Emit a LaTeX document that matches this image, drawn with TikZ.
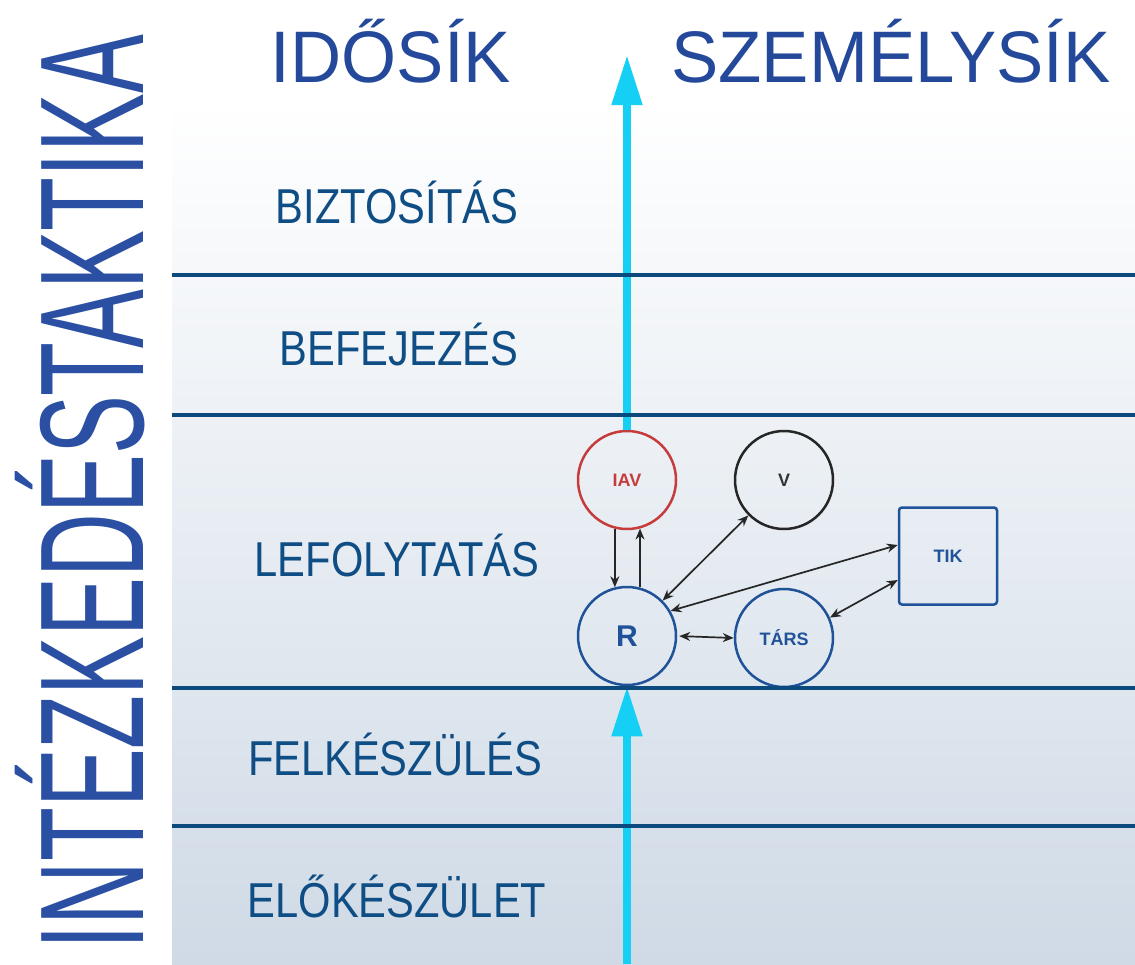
\documentclass[tikz,border=0pt]{standalone}
\usepackage{graphicx}
\usepackage{fontspec}
\setmainfont{Liberation Sans}
\usetikzlibrary{arrows.meta}
\definecolor{leftblue}{HTML}{2A4FA3}
\definecolor{headblue}{HTML}{24489A}
\definecolor{bandblue}{HTML}{0F4D85}
\definecolor{linenavy}{HTML}{0C4A7E}
\definecolor{cyanarr}{HTML}{16CFF5}
\definecolor{iavred}{HTML}{C63B3B}
\definecolor{nodeblue}{HTML}{1F5299}
\definecolor{panelbot}{HTML}{CFDAE6}
\definecolor{panelmid}{HTML}{E4EAF1}
\begin{document}
\begin{tikzpicture}[x=1pt,y=-1pt,
  leftlabel/.style={rotate=90, anchor=base, inner sep=0pt, text=leftblue, font=\fontsize{148}{148}\selectfont},
  headlabel/.style={anchor=base, inner sep=0pt, text=headblue, font=\fontsize{73}{73}\selectfont},
  bandlabel/.style={anchor=base, inner sep=0pt, text=bandblue, font=\fontsize{49}{49}\selectfont},
  bandline/.style={draw=linenavy, line width=4pt},
  timearrow/.style={draw=cyanarr, line width=8pt, -{Triangle[length=50pt,width=29pt]}},
  person/.style={circle, minimum size=98pt, inner sep=0pt, line width=2.5pt, font=\bfseries\fontsize{18}{18}\selectfont},
  relarrow/.style={draw=black!85, line width=1.7pt, {Stealth[length=11pt,width=9pt]}-{Stealth[length=11pt,width=9pt]}},
  onearrow/.style={draw=black!85, line width=1.7pt, -{Stealth[length=11pt,width=9pt]}}
]
\useasboundingbox (0,0) rectangle (1135,964);
% background panel
\shade[top color=white, middle color=panelmid, bottom color=panelbot] (172,100) rectangle (1135,964);

% side title
\node[leftlabel] (side) at (143,492.5) {\scalebox{0.596}[1]{INTÉZKEDÉSTAKTIKA}};

% headers
\node[headlabel] (idosik) at (391,82) {\scalebox{0.97}[1]{IDŐSÍK}};
\node[headlabel] (szemelysik) at (891,82) {\scalebox{0.97}[1]{SZEMÉLYSÍK}};

% band labels
\node[bandlabel] (biztositas) at (397,223) {\scalebox{0.85}[1]{BIZTOSÍTÁS}};
\node[bandlabel] (befejezes) at (399,365) {\scalebox{0.85}[1]{BEFEJEZÉS}};
\node[bandlabel] (lefolytatas) at (397,576) {\scalebox{0.85}[1]{LEFOLYTATÁS}};
\node[bandlabel] (felkeszules) at (395,775) {\scalebox{0.85}[1]{FELKÉSZÜLÉS}};
\node[bandlabel] (elokeszulet) at (397,917) {\scalebox{0.85}[1]{ELŐKÉSZÜLET}};

% persons
\node[person, draw=iavred, text=iavred] (IAV) at (627,480) {IAV};
\node[person, draw=black!85, text=black!80] (V) at (784,480) {V};
\node[person, draw=nodeblue, text=nodeblue, font=\bfseries\fontsize{30}{30}\selectfont] (R) at (627,636) {R};
\node[person, draw=nodeblue, text=nodeblue] (TARS) at (784,638) {TÁRS};
\node[draw=nodeblue, text=nodeblue, rectangle, rounded corners=3pt, minimum width=98pt, minimum height=97pt, inner sep=0pt, line width=2.5pt, font=\bfseries\fontsize{18}{18}\selectfont] (TIK) at (948,556) {TIK};

% time axis
\coordinate (axtop) at (627,55);
\coordinate (axbot) at (627,964);
\draw[timearrow] (axbot) -- (R.south);
\draw[timearrow] (IAV.north) -- (axtop);

% band separators
\coordinate (l1a) at (172,275); \coordinate (l1b) at (1135,275);
\coordinate (l2a) at (172,415); \coordinate (l2b) at (1135,415);
\coordinate (l3a) at (172,688); \coordinate (l3b) at (1135,688);
\coordinate (l4a) at (172,826); \coordinate (l4b) at (1135,826);
\draw[bandline] (l1a) -- (l1b);
\draw[bandline] (l2a) -- (l2b);
\draw[bandline] (l3a) -- (l3b);
\draw[bandline] (l4a) -- (l4b);

% relations
\draw[onearrow] (IAV.256) -- (R.104);
\draw[onearrow] (R.75) -- (IAV.285);
\draw[relarrow] (R) -- (V);
\draw[relarrow] (R.30) -- ([yshift=11pt]TIK.west);
\draw[relarrow] (TARS.24) -- ([yshift=-24pt]TIK.west);
\draw[relarrow, shorten <=2pt] (R.east) -- (TARS.west);
\end{tikzpicture}
\end{document}
